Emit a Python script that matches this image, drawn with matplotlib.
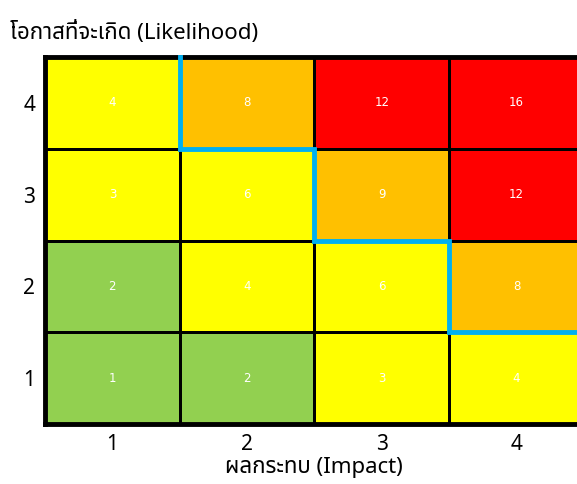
import matplotlib
matplotlib.use("Agg")
import matplotlib.pyplot as plt
from matplotlib.colors import ListedColormap
import numpy as np

# risk matrix, rows = likelihood 1..4 (bottom to top), cols = impact 1..4
impact = [1, 2, 3, 4]
likelihood = [1, 2, 3, 4]
scores = [[1, 2, 3, 4],
          [2, 4, 6, 8],
          [3, 6, 9, 12],
          [4, 8, 12, 16]]
# 0 = green, 1 = yellow, 2 = orange, 3 = red
levels = [[0, 0, 1, 1],
          [0, 1, 1, 2],
          [1, 1, 2, 3],
          [1, 2, 3, 3]]
# bottom edge of the high-risk zone in each impact column
high_zone_bottom = [4, 3, 2, 1]

title_y = "โอกาสที่จะเกิด (Likelihood)"
title_x = "ผลกระทบ (Impact)"

plt.rcParams['font.family'] = ['Noto Sans Thai', 'Loma', 'Garuda', 'Tlwg Typist',
                               'Noto Sans', 'DejaVu Sans']

fig = plt.figure(figsize=(5.77, 4.84), dpi=100)
ax = fig.add_axes([45/577, 1 - 424/484, 539/577, 367/484])

cmap = ListedColormap(['#92D050', '#FFFF00', '#FFC000', '#FF0000'])
ax.pcolormesh(np.arange(5), np.arange(5), np.array(levels), cmap=cmap,
              vmin=-0.5, vmax=3.5, edgecolors='black', linewidth=1.0)

for r in range(4):
    for c in range(4):
        ax.text(c + 0.5, r + 0.5, str(scores[r][c]), color='white',
                ha='center', va='center', fontsize=8.5, family='DejaVu Sans')

# blue staircase between low and high zones
xs, ys = [], []
for c in range(1, 4):
    xs += [c, c]
    ys += [high_zone_bottom[c - 1], high_zone_bottom[c]]
xs.append(4.2)
ys.append(high_zone_bottom[-1])
ax.plot(xs, ys, color='#00B0F0', linewidth=3.5, solid_joinstyle='miter',
        clip_on=False, zorder=5)

ax.set_xlim(0, 4)
ax.set_ylim(0, 4)
ax.set_xticks(np.arange(4) + 0.5)
ax.set_xticklabels([str(v) for v in impact])
ax.set_yticks(np.arange(4) + 0.5)
ax.set_yticklabels([str(v) for v in likelihood])
ax.tick_params(length=0, labelsize=15, pad=7)
for s in ax.spines.values():
    s.set_linewidth(3.5)

fig.text(10/577, 1 - 33/484, title_y, fontsize=16, ha='left', va='center')
fig.text(314/577, 1 - 468/484, title_x, fontsize=16, ha='center', va='center')

fig.savefig("out.png", dpi=100)
